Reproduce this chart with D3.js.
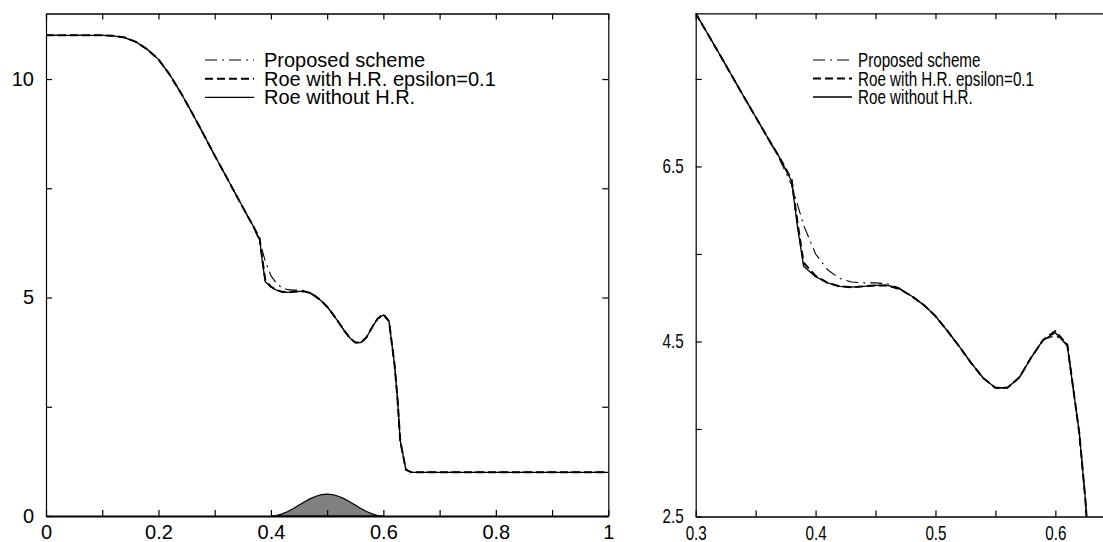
<!DOCTYPE html>
<html><head><meta charset="utf-8">
<script src="https://cdn.jsdelivr.net/npm/d3@7"></script>
<style>
html,body{margin:0;padding:0;background:#fff;}
svg{display:block;font-family:"Liberation Sans",Arial,Helvetica,sans-serif;}
</style></head>
<body>
<svg id="chart" width="1103" height="542"></svg>
<script>
// ---------- data ----------
const xGrid = [0, 0.05, 0.10, 0.12, 0.14, 0.16, 0.18, 0.20, 0.22, 0.24, 0.26, 0.28, 0.30, 0.32, 0.34, 0.36, 0.37, 0.38, 0.385, 0.39, 0.40, 0.41, 0.42, 0.43, 0.44, 0.45, 0.46, 0.47, 0.48, 0.49, 0.50, 0.51, 0.52, 0.53, 0.54, 0.55, 0.56, 0.57, 0.58, 0.59, 0.60, 0.61, 0.62, 0.625, 0.63, 0.64, 0.65, 0.70, 0.80, 0.90, 1.0];

const roeNoHR = [11.0, 11.0, 11.0, 10.99, 10.95, 10.85, 10.68, 10.45, 10.1, 9.68, 9.22, 8.74, 8.25, 7.78, 7.3, 6.83, 6.6, 6.33, 5.8, 5.36, 5.24, 5.17, 5.13, 5.12, 5.13, 5.14, 5.14, 5.1, 5.02, 4.92, 4.79, 4.62, 4.44, 4.25, 4.08, 3.97, 3.97, 4.09, 4.32, 4.52, 4.6, 4.45, 3.45, 2.7, 1.72, 1.06, 1.0, 1.0, 1.0, 1.0, 1.0];

const roeHR = [11.0, 11.0, 11.0, 10.99, 10.95, 10.85, 10.68, 10.45, 10.1, 9.68, 9.22, 8.74, 8.25, 7.78, 7.3, 6.83, 6.6, 6.35, 5.85, 5.4, 5.25, 5.17, 5.13, 5.12, 5.13, 5.14, 5.14, 5.1, 5.02, 4.92, 4.79, 4.62, 4.44, 4.25, 4.08, 3.97, 3.97, 4.09, 4.32, 4.52, 4.62, 4.46, 3.45, 2.7, 1.72, 1.06, 1.0, 1.0, 1.0, 1.0, 1.0];

const proposed = [11.0, 11.0, 11.0, 10.99, 10.95, 10.85, 10.68, 10.45, 10.1, 9.68, 9.22, 8.74, 8.25, 7.78, 7.3, 6.83, 6.58, 6.29, 6.06, 5.83, 5.5, 5.32, 5.22, 5.18, 5.17, 5.17, 5.16, 5.11, 5.02, 4.92, 4.79, 4.62, 4.44, 4.25, 4.08, 3.97, 3.97, 4.09, 4.32, 4.52, 4.57, 4.47, 3.45, 2.7, 1.72, 1.06, 1.0, 1.0, 1.0, 1.0, 1.0];

const bumpX = [0.40, 0.41, 0.42, 0.43, 0.44, 0.45, 0.46, 0.47, 0.48, 0.49, 0.50, 0.51, 0.52, 0.53, 0.54, 0.55, 0.56, 0.57, 0.58, 0.59, 0.60];
const bumpY = [0, 0.012, 0.048, 0.103, 0.173, 0.25, 0.327, 0.397, 0.452, 0.488, 0.5, 0.488, 0.452, 0.397, 0.327, 0.25, 0.173, 0.103, 0.048, 0.012, 0];

const legendLabels = ["Proposed scheme", "Roe with H.R. epsilon=0.1", "Roe without H.R."];

const leftXTicks = [0, 0.1, 0.2, 0.3, 0.4, 0.5, 0.6, 0.7, 0.8, 0.9, 1.0];
const leftXLabels = {"0":"0", "0.2":"0.2", "0.4":"0.4", "0.6":"0.6", "0.8":"0.8", "1":"1"};
const leftYTicks = [0, 2.5, 5, 7.5, 10];
const leftYLabels = {"0":"0", "5":"5", "10":"10"};

const rightXTicks = [0.3, 0.35, 0.4, 0.45, 0.5, 0.55, 0.6];
const rightXLabels = {"0.3":"0.3", "0.4":"0.4", "0.5":"0.5", "0.6":"0.6"};
const rightYTicks = [2.5, 3.5, 4.5, 5.5, 6.5, 7.5];
const rightYLabels = {"2.5":"2.5", "4.5":"4.5", "6.5":"6.5"};

// ---------- styles ----------
const seriesStyle = [
  {data: proposed, width: 1.1, dash: "12,5,2,5"},
  {data: roeHR, width: 2.0, dash: "8,4"},
  {data: roeNoHR, width: 1.3, dash: null}
];

const svg = d3.select("#chart");
const FONT = 20;

function panel(cfg) {
  const x = d3.scaleLinear().domain(cfg.xDomain).range(cfg.xRange);
  const y = d3.scaleLinear().domain(cfg.yDomain).range(cfg.yRange);
  const g = svg.append("g");
  const sx = cfg.squeeze;

  const clipId = "clip" + cfg.id;
  svg.append("clipPath").attr("id", clipId).append("rect")
    .attr("x", cfg.xRange[0]).attr("y", cfg.yRange[1])
    .attr("width", cfg.xRange[1] - cfg.xRange[0])
    .attr("height", cfg.yRange[0] - cfg.yRange[1]);

  const plot = g.append("g").attr("clip-path", `url(#${clipId})`);

  if (cfg.bump) {
    const area = d3.area().x((d, i) => x(bumpX[i])).y0(y(0)).y1((d, i) => y(bumpY[i]));
    plot.append("path").datum(bumpY).attr("d", area)
      .attr("fill", "#808080").attr("stroke", "#000").attr("stroke-width", 1.2);
  }

  const line = d3.line().x((d, i) => x(xGrid[i])).y(d => y(d));
  seriesStyle.forEach(s => {
    plot.append("path").datum(s.data).attr("d", line)
      .attr("fill", "none").attr("stroke", "#000")
      .attr("stroke-width", s.width)
      .attr("stroke-linejoin", "round")
      .attr("stroke-dasharray", s.dash);
  });

  const fmtX = v => cfg.xLabels[String(+v.toFixed(2))] || "";
  const fmtY = v => cfg.yLabels[String(+v.toFixed(2))] || "";

  const ax = [
    {gen: d3.axisBottom(x).tickValues(cfg.xTicks).tickFormat(fmtX), tr: `translate(0,${cfg.yRange[0]})`, w: cfg.bottomWidth},
    {gen: d3.axisTop(x).tickValues(cfg.xTicks).tickFormat(""), tr: `translate(0,${cfg.yRange[1]})`, w: 1.3},
    {gen: d3.axisLeft(y).tickValues(cfg.yTicks).tickFormat(fmtY), tr: `translate(${cfg.xRange[0]},0)`, w: 1.2},
    {gen: d3.axisRight(y).tickValues(cfg.yTicks).tickFormat(""), tr: `translate(${cfg.xRange[1]},0)`, w: 1.2}
  ];
  ax.forEach((a, k) => {
    a.gen.tickSizeInner(-6).tickSizeOuter(0).tickPadding(k === 0 ? 9 : 12);
    const ag = g.append("g").attr("transform", a.tr).call(a.gen);
    ag.select(".domain").attr("stroke", "#000").attr("stroke-width", a.w);
    ag.selectAll(".tick line").attr("stroke", "#000").attr("stroke-width", 1.2);
    ag.selectAll(".tick text").attr("fill", "#000").attr("font-size", FONT)
      .attr("font-family", '"Liberation Sans", Arial, sans-serif');
    if (sx !== 1) {
      ag.selectAll(".tick text").attr("transform", `scale(${sx},1)`);
      if (k === 2) ag.selectAll(".tick text").attr("x", -12 / sx);
    }
  });

  const lg = g.append("g");
  legendLabels.forEach((lab, i) => {
    const yy = cfg.legY + i * cfg.legDy;
    lg.append("line").attr("x1", cfg.legX0).attr("x2", cfg.legX1)
      .attr("y1", yy).attr("y2", yy)
      .attr("stroke", "#000").attr("stroke-width", seriesStyle[i].width)
      .attr("stroke-dasharray", seriesStyle[i].dash);
    lg.append("text").attr("transform", `translate(${cfg.legTx},${yy}) scale(${sx},1)`)
      .attr("dy", "0.35em").attr("font-size", FONT).attr("fill", "#000")
      .text(lab);
  });
}

panel({
  id: "L", xDomain: [0, 1], xRange: [46, 608.3], yDomain: [0, 11.5], yRange: [516, 13.5],
  xTicks: leftXTicks, xLabels: leftXLabels, yTicks: leftYTicks, yLabels: leftYLabels,
  bump: true, squeeze: 1, bottomWidth: 2.2,
  legX0: 205, legX1: 254, legTx: 264, legY: 60, legDy: 18.7
});

panel({
  id: "R", xDomain: [0.3, 0.65], xRange: [695.7, 1115.3], yDomain: [2.5, 8.25], yRange: [516.5, 13.3],
  xTicks: rightXTicks, xLabels: rightXLabels, yTicks: rightYTicks, yLabels: rightYLabels,
  bump: false, squeeze: 0.76, bottomWidth: 1.6,
  legX0: 813, legX1: 852, legTx: 858, legY: 60, legDy: 18.5
});
</script>
</body></html>
